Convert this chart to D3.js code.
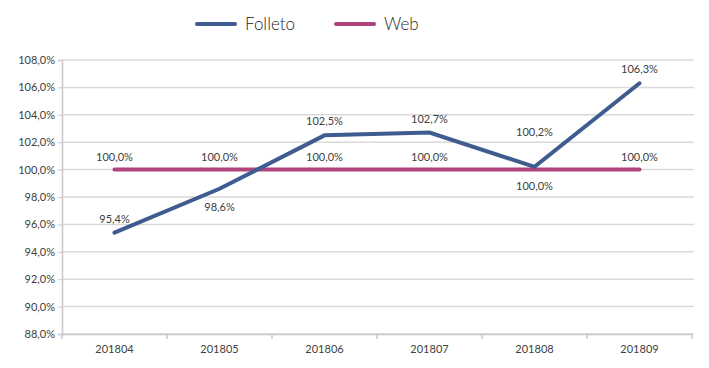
<!DOCTYPE html>
<html><head><meta charset="utf-8">
<script src="https://cdn.jsdelivr.net/npm/d3@7"></script>
<style>body{margin:0;background:#fff;} text{font-family:Lato,"Open Sans",sans-serif;}</style>
</head><body>
<svg id="c" width="709" height="368"></svg>
<script>
const categories = ["201804","201805","201806","201807","201808","201809"];
const folleto = [95.4, 98.6, 102.5, 102.7, 100.2, 106.3];
const web = [100.0, 100.0, 100.0, 100.0, 100.0, 100.0];
const yTicks = [88,90,92,94,96,98,100,102,104,106,108];
const folletoLabelPos = ["above","below","above","above","above2","above"];
const webLabelPos = ["above","above","above","above","below","above"];

const svg = d3.select("#c");
const x = d3.scaleBand().domain(categories).range([62, 692]);
const y = d3.scaleLinear().domain([88,108]).range([334, 60]);
const fmt = v => v.toFixed(1).replace(".", ",") + "%";
const cx = d => x(d) + x.bandwidth()/2;

// gridlines
svg.append("g").selectAll("line").data(yTicks).join("line")
  .attr("x1", 62).attr("x2", 694).attr("y1", d=>y(d)).attr("y2", d=>y(d))
  .attr("stroke", "#d9d9d9").attr("stroke-width", 1.5);

// y axis
const ya = svg.append("g").attr("transform","translate(62,0)")
  .call(d3.axisLeft(y).tickValues(yTicks).tickFormat(v=>fmt(v)).tickSize(4).tickPadding(3));
ya.select(".domain").attr("stroke","#c8c8c8").attr("stroke-width",1.5);
ya.selectAll(".tick line").attr("stroke","#c8c8c8");
ya.selectAll("text").attr("font-size",11).attr("fill","#404040");

// x axis
const xa = svg.append("g").attr("transform","translate(0,334)")
  .call(d3.axisBottom(x).tickSize(0).tickPadding(11));
xa.select(".domain").attr("stroke","#c8c8c8").attr("stroke-width",1.5);
xa.selectAll("text").attr("font-size",11).attr("fill","#404040");
svg.append("g").selectAll("line").data(categories.concat(["end"])).join("line")
  .attr("x1", (d,i)=> i<categories.length ? x(d) : 692).attr("x2",(d,i)=> i<categories.length ? x(d) : 692)
  .attr("y1",334).attr("y2",339).attr("stroke","#c8c8c8").attr("stroke-width",1.5);

const line = d3.line().x((d,i)=>cx(categories[i])).y(d=>y(d));
const cF = "#3e5c8f", cW = "#b0447c";
svg.append("path").datum(web).attr("d", line).attr("fill","none").attr("stroke",cW).attr("stroke-width",4).attr("stroke-linecap","round");
svg.append("path").datum(folleto).attr("d", line).attr("fill","none").attr("stroke",cF).attr("stroke-width",4).attr("stroke-linecap","round");

// labels
const lab = svg.append("g").attr("font-size",11).attr("fill","#404040").attr("text-anchor","middle");
folleto.forEach((v,i)=>{
  const p = folletoLabelPos[i];
  const dy = p==="above" ? -10 : p==="below" ? 22 : -31;
  lab.append("text").attr("x", cx(categories[i])).attr("y", y(v)+dy).text(fmt(v));
});
web.forEach((v,i)=>{
  const p = webLabelPos[i];
  const dy = p==="above" ? -9 : 20;
  lab.append("text").attr("x", cx(categories[i])).attr("y", y(v)+dy).text(fmt(v));
});

// legend
const leg = svg.append("g");
[["Folleto",cF,197],["Web",cW,336]].forEach(([n,c,lx])=>{
  leg.append("line").attr("x1",lx).attr("x2",lx+38).attr("y1",24).attr("y2",24).attr("stroke",c).attr("stroke-width",4).attr("stroke-linecap","round");
  leg.append("text").attr("x",lx+48).attr("y",30).attr("font-size",17).attr("font-weight",300).attr("fill","#262626").text(n);
});
</script>
</body></html>
